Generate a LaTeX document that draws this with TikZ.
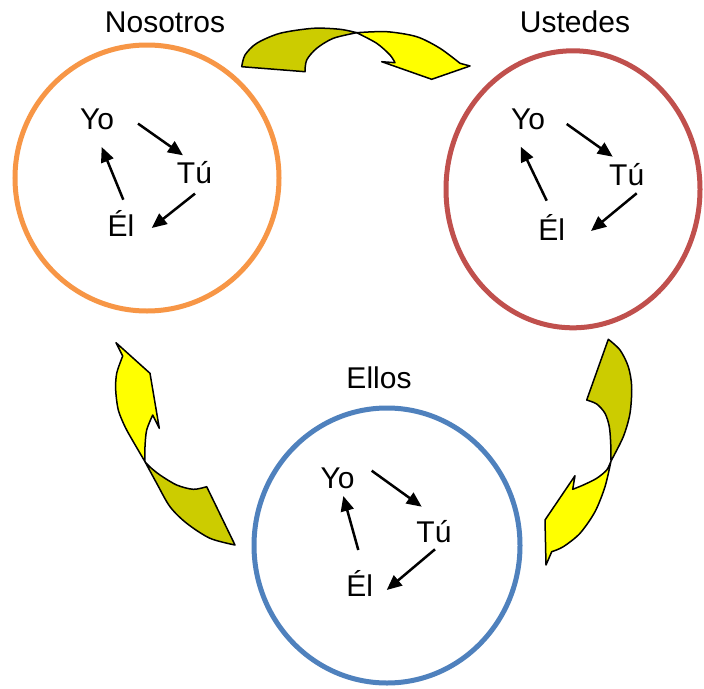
\documentclass[tikz,border=0pt]{standalone}
\usepackage{fontspec}
\setmainfont{Liberation Sans}
\usetikzlibrary{arrows.meta,calc,shapes.geometric}
\definecolor{ringorange}{HTML}{F79646}
\definecolor{ringred}{HTML}{C0504D}
\definecolor{ringblue}{HTML}{4F81BD}
\definecolor{ribbonback}{HTML}{CCCC00}
\definecolor{ribbonfront}{HTML}{FFFF00}
\begin{document}
\begin{tikzpicture}[x=1pt,y=-1pt,
  word/.style={font=\fontsize{30}{36}\selectfont, inner sep=0pt, anchor=base},
  ringline/.style={ellipse, draw, line width=5pt, inner sep=0pt},
  turn/.style={line width=2.5pt, -{Triangle[length=15pt,width=13pt]}},
  ribbon/.style={draw=black, line width=1.5pt, line join=round}]
\fill[white] (0,0) rectangle (704,688);
\useasboundingbox (0,0) rectangle (704,688);

% the three groups
\node[ringline, draw=ringorange, minimum width=264, minimum height=266] (nos) at (147,178) {};
\node[ringline, draw=ringred, minimum width=254, minimum height=277] (ust) at (573,189.3) {};
\node[ringline, draw=ringblue, minimum width=266, minimum height=275] (ell) at (387,545.5) {};

\node[word] (nos-title) at (165,32) {Nosotros};
\node[word] (ust-title) at (575,32) {Ustedes};
\node[word] (ell-title) at (379,388.3) {Ellos};

% Nosotros: Yo -> Tú -> Él -> Yo
\node[word] (n-yo) at (97,129.3) {Yo};
\node[word] (n-tu) at (194.5,183.3) {Tú};
\node[word] (n-el) at (121,236.7) {Él};
\draw[turn] ($(n-yo.base)+(41,-5.7)$) -- ($(n-tu.base)+(-11.5,-28)$);
\draw[turn] ($(n-tu.base)+(0.5,10.3)$) -- ($(n-el.base)+(30.7,-8.7)$);
\draw[turn] ($(n-el.base)+(2.3,-37)$) -- ($(n-yo.base)+(4.7,17.7)$);

% Ustedes
\node[word] (u-yo) at (528,129.3) {Yo};
\node[word] (u-tu) at (626.7,185) {Tú};
\node[word] (u-el) at (551.7,240) {Él};
\draw[turn] ($(u-yo.base)+(38.7,-5.3)$) -- ($(u-tu.base)+(-14,-28.3)$);
\draw[turn] ($(u-tu.base)+(10,8.3)$) -- ($(u-el.base)+(39.3,-9)$);
\draw[turn] ($(u-el.base)+(-5,-39.3)$) -- ($(u-yo.base)+(-7.3,17.4)$);

% Ellos
\node[word] (e-yo) at (337.5,488.3) {Yo};
\node[word] (e-tu) at (434,542.7) {Tú};
\node[word] (e-el) at (359.7,596.7) {Él};
\draw[turn] ($(e-yo.base)+(34.2,-17.6)$) -- ($(e-tu.base)+(-12.3,-36)$);
\draw[turn] ($(e-tu.base)+(1,6.6)$) -- ($(e-el.base)+(27,-6.7)$);
\draw[turn] ($(e-el.base)+(-1.4,-46.7)$) -- ($(e-yo.base)+(5.8,7.7)$);

% curved arrow Nosotros -> Ustedes
\filldraw[ribbon, fill=ribbonback] (305,71.7)
  -- plot[smooth] coordinates {(241.7,66.7) (245,55) (256.7,43.3) (280,33.3) (313.3,28.3) (340,29.3) (356.7,32.7)}
  -- plot[smooth] coordinates {(356.7,32.7) (333.3,38.3) (316.7,48.3) (306.7,60) (305,71.7)} -- cycle;
\filldraw[ribbon, fill=ribbonfront] (356.7,32.7)
  -- plot[smooth] coordinates {(356.7,32.7) (386.7,31.7) (416.7,36.7) (440,48.3) (460,63.3)}
  -- (470,66) -- (431.7,79.3) -- (381.7,61.7) -- (395,62.7)
  -- plot[smooth] coordinates {(395,62.7) (390,55) (376.7,43.3) (356.7,32.7)} -- cycle;

% curved arrow Ustedes -> Ellos
\filldraw[ribbon, fill=ribbonback] (608.3,339.3)
  -- plot[smooth] coordinates {(608.3,339.3) (620,350) (628.3,366.7) (631.7,386.7) (630,413.3) (623.3,436.7) (611,461)}
  -- plot[smooth] coordinates {(611,461) (610.7,443.3) (609.3,426.7) (605,413.3) (596.7,404) (586.7,400)} -- cycle;
\filldraw[ribbon, fill=ribbonfront] (611,461)
  -- plot[smooth] coordinates {(611,461) (605,486.7) (595,511.7) (580,533.3) (563.3,546.7) (551.7,551.7)}
  -- (546,565) -- (545,520) -- (575,475.7) -- (572.7,489.3)
  -- plot[smooth] coordinates {(572.7,489.3) (583.3,485) (596.7,478.3) (606.7,470) (611,461)} -- cycle;

% curved arrow Ellos -> Nosotros
\filldraw[ribbon, fill=ribbonback] (145,461.7)
  -- plot[smooth] coordinates {(145,461.7) (156.7,483.3) (170,506.7) (186.7,523.3) (210,538.3) (235,545)}
  -- (206.7,486.7)
  -- plot[smooth] coordinates {(206.7,486.7) (193.3,489.3) (176.7,485) (160,475) (150,467) (145,461.7)} -- cycle;
\filldraw[ribbon, fill=ribbonfront] (116,342.7) -- (122.7,356)
  -- plot[smooth] coordinates {(122.7,356) (116.7,373.3) (115.7,390) (118.3,410) (125,426.7) (133.3,441.7) (145,461.7)}
  -- plot[smooth] coordinates {(145,461.7) (145,446.7) (146.7,430) (152.7,415)}
  -- (159.3,428.3) -- (150,373.3) -- cycle;
\end{tikzpicture}
\end{document}
